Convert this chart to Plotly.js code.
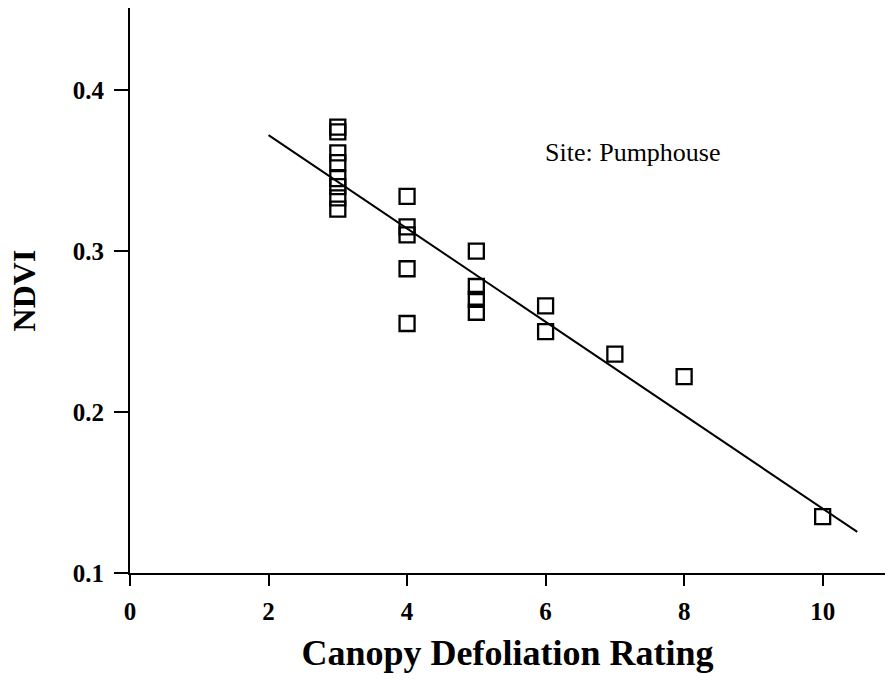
<!DOCTYPE html>
<html>
<head>
<meta charset="utf-8">
<script src="https://cdn.plot.ly/plotly-3.0.1.min.js"></script>
<style>html,body{margin:0;padding:0;background:#fff;}#chart{width:889px;height:691px;}</style>
</head>
<body>
<div id="chart"></div>
<script>
// Observed data: canopy defoliation rating vs NDVI
const rating = [3, 3, 3, 3, 3, 3, 3, 3, 4, 4, 4, 4, 4, 5, 5, 5, 5, 6, 6, 7, 8, 10];
const ndvi   = [0.377, 0.374, 0.361, 0.355, 0.345, 0.340, 0.333, 0.326,
                0.334, 0.315, 0.310, 0.289, 0.255,
                0.300, 0.278, 0.270, 0.262,
                0.266, 0.250, 0.236, 0.222, 0.135];
// Regression line endpoints
const fitX = [2, 10.5];
const fitY = [0.372, 0.1255];
const siteLabel = "Site: Pumphouse";
const xTicks = [0, 2, 4, 6, 8, 10];
const yTicks = [0.1, 0.2, 0.3, 0.4];

const serif = "Liberation Serif, Times New Roman, serif";

const traces = [
  {x: fitX, y: fitY, mode: "lines", type: "scatter",
   line: {color: "#000", width: 2}, hoverinfo: "skip"},
  {x: rating, y: ndvi, mode: "markers", type: "scatter",
   marker: {symbol: "square-open", size: 15, color: "#000", line: {color: "#000", width: 2.3}}}
];

const layout = {
  width: 889, height: 691,
  margin: {l: 130, r: 4, t: 8, b: 118},
  paper_bgcolor: "#fff", plot_bgcolor: "#fff",
  showlegend: false,
  xaxis: {
    range: [0, 10.9], tickvals: xTicks, ticktext: xTicks.map(String),
    showgrid: false, zeroline: false, showline: true, linecolor: "#000", linewidth: 2,
    ticks: "outside", ticklen: 11, tickwidth: 2, tickcolor: "#000", ticklabelstandoff: 4,
    tickfont: {family: serif, size: 25, color: "#000", weight: "bold"},
    title: {text: "<b>Canopy Defoliation Rating</b>", font: {family: serif, size: 36, color: "#000"}, standoff: 16}
  },
  yaxis: {
    range: [0.1, 0.451], tickvals: yTicks, ticktext: yTicks.map(v => v.toFixed(1)),
    showgrid: false, zeroline: false, showline: true, linecolor: "#000", linewidth: 2,
    ticks: "outside", ticklen: 14, tickwidth: 2, tickcolor: "#000", ticklabelstandoff: 5,
    tickfont: {family: serif, size: 25, color: "#000", weight: "bold"},
    title: {text: "<b>NDVI</b>", font: {family: serif, size: 32, color: "#000"}, standoff: 28}
  },
  annotations: [{
    x: 5.96, y: 0.361, xref: "x", yref: "y", xanchor: "left", yanchor: "middle",
    text: siteLabel, showarrow: false, font: {family: serif, size: 26, color: "#000"}
  }]
};

Plotly.newPlot("chart", traces, layout, {displayModeBar: false, staticPlot: true});
</script>
</body>
</html>
